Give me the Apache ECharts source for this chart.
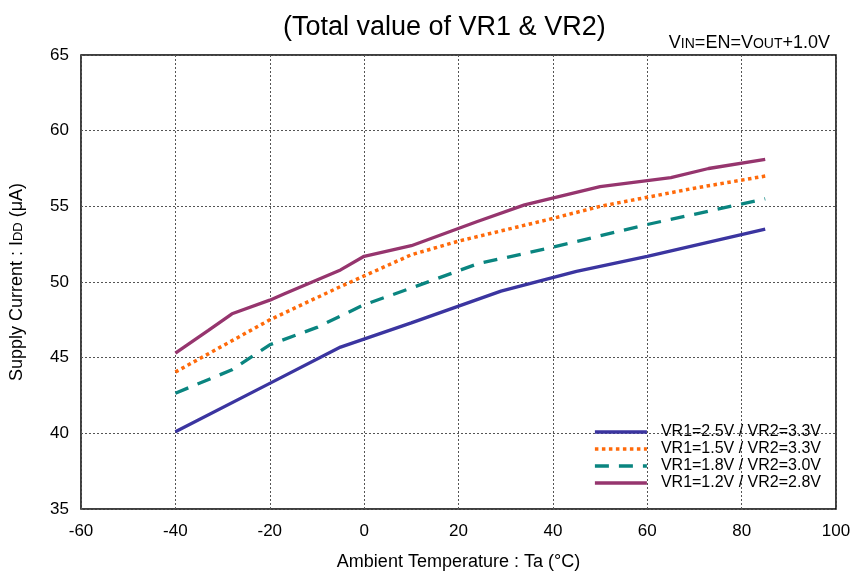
<!DOCTYPE html>
<html><head><meta charset="utf-8">
<script src="https://cdn.jsdelivr.net/npm/echarts@6/dist/echarts.min.js"></script>
<style>html,body{margin:0;padding:0;background:#fff}#c{width:852px;height:571px}</style>
</head><body><div id="c"></div>
<script>
const seriesNames = ['VR1=2.5V / VR2=3.3V','VR1=1.5V / VR2=3.3V','VR1=1.8V / VR2=3.0V','VR1=1.2V / VR2=2.8V'];
const blue = [[-40,40.1],[-20,43.3],[-5,45.7],[10,47.3],[29,49.4],[45,50.7],[60,51.7],[85,53.5]];
const orange = [[-40,44.05],[-20,47.5],[-5,49.7],[0,50.4],[10,51.8],[20,52.7],[40,54.2],[50,55.0],[60,55.6],[70,56.2],[85,57.0]];
const teal = [[-40,42.65],[-28,44.2],[-20,45.85],[-10,47.0],[0,48.5],[10,49.6],[24,51.2],[40,52.3],[60,53.8],[85,55.5]];
const purple = [[-40,45.3],[-33,46.8],[-28,47.9],[-20,48.8],[-17,49.2],[-5,50.8],[0,51.7],[10,52.4],[24,54.0],[34,55.1],[50,56.3],[65,56.9],[73,57.5],[85,58.1]];
const colors = ['#3b35a0','#ff6a0a','#0a8580','#96356e'];
const FONT = 'Liberation Sans, Arial, sans-serif';
const chart = echarts.init(document.getElementById('c'));
chart.setOption({
  animation:false,
  textStyle:{fontFamily:FONT},
  title:[
    {text:'(Total value of VR1 & VR2)', left:278, top:9, textStyle:{fontFamily:FONT,fontSize:27,fontWeight:'normal',color:'#000'}},
    {text:'{b|V}{s|IN}{b|=EN=V}{s|OUT}{b|+1.0V}', right:17, top:29, textStyle:{fontWeight:'normal',rich:{b:{fontFamily:FONT,fontSize:18,fontWeight:'normal',color:'#000'},s:{fontFamily:FONT,fontSize:14,fontWeight:'normal',color:'#000',padding:[2,0,0,0]}}}}
  ],
  legend:{
    orient:'vertical', right:26, top:419, itemWidth:52, itemHeight:14, itemGap:1,
    itemStyle:{opacity:0},
    lineStyle:{width:3.5},
    textStyle:{fontFamily:FONT,fontSize:16,color:'#000',padding:[0,0,0,9],lineHeight:15},
    data:seriesNames
  },
  grid:{left:81,right:16,top:55,bottom:62,show:true,borderColor:'#000',borderWidth:1.5,outerBoundsMode:'none',containLabel:false},
  xAxis:{type:'value',min:-60,max:100,interval:20,
    name:'Ambient Temperature : Ta (°C)', nameLocation:'middle', nameGap:44,
    nameTextStyle:{fontFamily:FONT,fontSize:18,color:'#000'},
    axisLine:{show:false},axisTick:{show:false},
    axisLabel:{fontFamily:FONT,fontSize:17,color:'#000',margin:14},
    splitLine:{show:true,lineStyle:{color:'#555',type:[2,2],width:1}}},
  yAxis:{type:'value',min:35,max:65,interval:5,
    name:'{b|Supply Current : I}{s|DD}{b| (μA)}', nameLocation:'middle', nameGap:55,
    nameTextStyle:{rich:{b:{fontFamily:FONT,fontSize:18,color:'#000'},s:{fontFamily:FONT,fontSize:13,color:'#000',padding:[3,0,0,0]}}},
    axisLine:{show:false},axisTick:{show:false},
    axisLabel:{fontFamily:FONT,fontSize:17,color:'#000',margin:12},
    splitLine:{show:true,lineStyle:{color:'#555',type:[2,2],width:1}}},
  series:[
    {name:seriesNames[0],type:'line',data:blue,symbol:'none',color:colors[0],lineStyle:{width:3.3,color:colors[0]}},
    {name:seriesNames[1],type:'line',data:orange,symbol:'none',color:colors[1],lineStyle:{width:3.5,color:colors[1],type:[3.5,3.5]}},
    {name:seriesNames[2],type:'line',data:teal,symbol:'none',color:colors[2],lineStyle:{width:3.3,color:colors[2],type:[14,10]}},
    {name:seriesNames[3],type:'line',data:purple,symbol:'none',color:colors[3],lineStyle:{width:3.3,color:colors[3]}}
  ]
});
</script></body></html>
